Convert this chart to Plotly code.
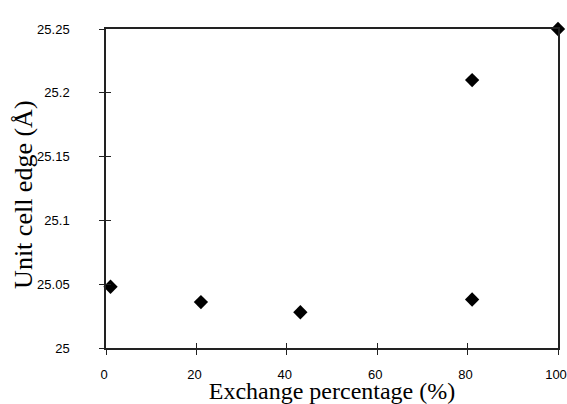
import plotly.graph_objects as go

exchange_pct = [1, 21, 43, 81, 81, 100]
cell_edge = [25.048, 25.036, 25.028, 25.210, 25.038, 25.250]
x_ticks = [0, 20, 40, 60, 80, 100]
y_ticks = [25, 25.05, 25.1, 25.15, 25.2, 25.25]
y_tick_labels = ["25", "25.05", "25.1", "25.15", "25.2", "25.25"]
x_title = "Exchange percentage (%)"
y_title = "Unit cell edge (Å)"

tick_font = dict(family="Liberation Sans, Arial", size=13, color="#000")
title_font_x = dict(family="Liberation Serif, Times New Roman, serif", size=24, color="#000")
title_font_y = dict(family="Liberation Serif, Times New Roman, serif", size=26, color="#000")

fig = go.Figure()
fig.add_trace(go.Scatter(
    x=exchange_pct, y=cell_edge, mode="markers",
    marker=dict(symbol="diamond", size=11, color="black"),
    cliponaxis=False, showlegend=False, hoverinfo="skip",
))
# invisible copy on overlay axes that carry the inward half of the crossing ticks
fig.add_trace(go.Scatter(
    x=exchange_pct, y=cell_edge, xaxis="x2", yaxis="y2", mode="markers",
    marker=dict(size=1, opacity=0), showlegend=False, hoverinfo="skip",
))

axis_common = dict(showgrid=False, zeroline=False, linecolor="#222", linewidth=1.5,
                   tickcolor="#222", tickwidth=1.2, ticklen=5, automargin=False)

fig.update_layout(
    width=567, height=404,
    margin=dict(l=106, r=9, t=29, b=56),
    paper_bgcolor="white", plot_bgcolor="white",
    xaxis=dict(range=[0, 100], tickvals=x_ticks, ticks="outside", mirror=True,
               showline=True, tickfont=tick_font, ticklabelstandoff=9,
               ticklabelshift=-2, ticklabeloverflow="allow",
               title=dict(text=x_title, font=title_font_x, standoff=5),
               **axis_common),
    yaxis=dict(range=[25, 25.25], tickvals=y_ticks, ticktext=y_tick_labels, ticks="outside",
               mirror=True, showline=True, tickfont=tick_font, ticklabelstandoff=27,
               ticklabeloverflow="allow",
               **axis_common),
    xaxis2=dict(range=[0, 100], tickvals=x_ticks, ticks="inside", overlaying="x",
                showticklabels=False, showline=False, showgrid=False, zeroline=False,
                tickcolor="#222", tickwidth=1.2, ticklen=5, side="bottom", automargin=False),
    yaxis2=dict(range=[25, 25.25], tickvals=y_ticks, ticks="inside", overlaying="y",
                showticklabels=False, showline=False, showgrid=False, zeroline=False,
                tickcolor="#222", tickwidth=1.2, ticklen=5, side="left", automargin=False),
    annotations=[dict(
        text=y_title, textangle=-90, font=title_font_y, showarrow=False,
        xref="paper", yref="paper", x=-0.1814, y=0.48,
        xanchor="center", yanchor="middle",
    )],
)

fig.write_html(
    "out.html",
    config={"displayModeBar": False},
    post_script="document.body.style.margin='0';document.body.style.overflow='hidden';",
)
